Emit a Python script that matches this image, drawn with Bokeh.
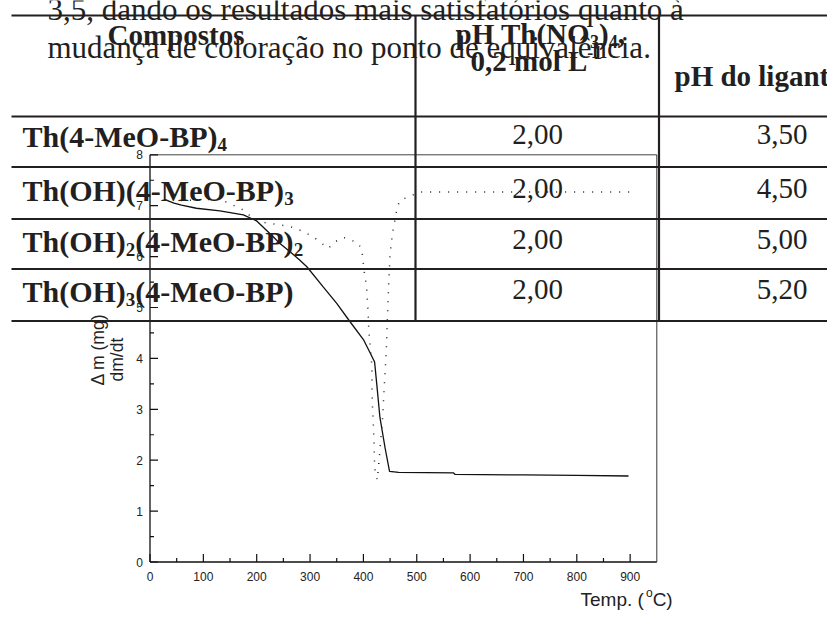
import numpy as np
from bokeh.plotting import figure
from bokeh.models import Range1d
from bokeh.core.properties import value
from bokeh.embed import file_html
from bokeh.resources import INLINE

# ---------------- data ----------------
temp_tg = [28, 45, 59, 87, 131, 175, 200, 231, 243, 262, 281, 294, 325, 350, 375, 400,
           413, 421, 425, 431, 441, 449, 466, 569, 572, 700, 800, 897]
mass_tg = [7.12, 7.05, 7.01, 6.95, 6.90, 6.82, 6.70, 6.39, 6.26, 6.10, 5.93, 5.80, 5.40,
           5.08, 4.72, 4.37, 4.10, 3.93, 3.50, 2.84, 2.22, 1.78, 1.76, 1.75, 1.72, 1.71,
           1.70, 1.69]

temp_dtg = [58, 100, 130, 146, 174, 190, 203, 262, 275, 306, 334, 347, 362, 390, 397, 402,
            406, 409, 410, 416, 416, 417, 419, 420, 421, 424, 426, 430, 436, 439, 443, 445,
            447, 450, 455, 458, 463, 468, 506, 600, 700, 800, 902]
dtg = [7.10, 7.12, 7.13, 7.06, 6.92, 6.78, 6.69, 6.59, 6.55, 6.39, 6.16, 6.29, 6.38, 6.27,
       6.13, 5.67, 5.40, 4.88, 4.58, 3.83, 3.37, 3.07, 2.61, 2.32, 1.86, 1.69, 1.61, 2.07,
       2.84, 3.43, 4.16, 4.81, 5.34, 6.06, 6.49, 6.65, 6.95, 7.10, 7.27, 7.27, 7.27, 7.27,
       7.27]

x_ticks = [0, 100, 200, 300, 400, 500, 600, 700, 800, 900]
x_tick_labels = ["0", "100", "200", "300", "400", "500", "600", "700", "800", "900"]
x_minor = [50, 150, 250, 350, 450, 550, 650, 750, 850]
y_ticks = [0, 1, 2, 3, 4, 5, 6, 7, 8]
y_tick_labels = ["0", "1", "2", "3", "4", "5", "6", "7", "8"]
y_minor = [0.5, 1.5, 2.5, 3.5, 4.5, 5.5, 6.5, 7.5]
x_max = 950
y_max = 8

x_label_parts = [("Temp. (", 0), ("o", 2), ("C)", 0)]
y_label_1 = "Δ m (mg)"
y_label_2 = "dm/dt"

paragraph = ["3,5, dando os resultados mais satisfatórios quanto à",
             "mudança de coloração no ponto de equivalência."]
header_1 = [("Compostos", 0)]
header_2a = [("pH Th(NO", 0), ("3", 1), (")", 0), ("4", 1), (",", 0)]
header_2b = [("0,2 mol L", 0), ("-1", 2)]
header_3 = [("pH do ligante", 0)]
compounds = [
    [("Th(4-MeO-BP)", 0), ("4", 1)],
    [("Th(OH)(4-MeO-BP)", 0), ("3", 1)],
    [("Th(OH)", 0), ("2", 1), ("(4-MeO-BP)", 0), ("2", 1)],
    [("Th(OH)", 0), ("3", 1), ("(4-MeO-BP)", 0)],
]
ph_th = ["2,00", "2,00", "2,00", "2,00"]
ph_lig = ["3,50", "4,50", "5,00", "5,20"]

# ---------------- layout (picture pixels) ----------------
W, H = 827, 624
X0_PX, PX_PER_X = 149.5, 0.5335
Y0_PX, PX_PER_Y = 561.5, 50.9
PAGE_L, PAGE_T = 0, 0
PAGE_R, PAGE_B = PAGE_L + W, PAGE_T + H
BASE_FIX = 0.23  # alphabetic-baseline correction, fraction of font size

INK = "#231f20"
SERIF = value("Liberation Serif")
SANS = value("Liberation Sans")

# Times Bold / Arial advance widths (em) used for sequential text layout
TB = {"T": .667, "h": .556, "(": .333, ")": .333, "4": .5, "-": .333, "M": .944,
      "e": .444, "O": .778, "B": .667, "P": .611, "H": .778, "2": .5, "3": .5,
      "N": .722, "p": .556, " ": .25, ",": .25, "0": .5, "m": .833, "o": .5,
      "l": .278, "L": .667, "1": .5, "C": .722, "s": .389, "t": .333}
AR = {"T": .611, "e": .556, "m": .833, "p": .556, ".": .278, " ": .278, "(": .333,
      "o": .556, "C": .722, ")": .333}

p = figure(width=W, height=H, output_backend="svg", toolbar_location=None,
           x_axis_location=None, y_axis_location=None, min_border=0,
           x_range=Range1d((PAGE_L - X0_PX) / PX_PER_X, (PAGE_R - X0_PX) / PX_PER_X),
           y_range=Range1d((Y0_PX - PAGE_B) / PX_PER_Y, (Y0_PX - PAGE_T) / PX_PER_Y))
p.extra_x_ranges = {"px": Range1d(PAGE_L, PAGE_R)}
p.extra_y_ranges = {"py": Range1d(PAGE_B, PAGE_T)}
p.grid.visible = False
p.outline_line_color = None
p.background_fill_color = "white"
p.border_fill_color = "white"


def layout_segments(parts, x0, size, small, widths):
    out = []
    x = x0
    for txt, kind in parts:
        fs = size if kind == 0 else small
        out.append((x, txt, kind, fs))
        x += sum(widths.get(c, .5) for c in txt) * fs
    return out


def draw_parts(parts, x0, base, size, small, widths, font, style, color,
               sub_dy=5, sup_dy=-11):
    for x, txt, kind, fs in layout_segments(parts, x0, size, small, widths):
        dy = 0 if kind == 0 else (sub_dy if kind == 1 else sup_dy)
        p.text(x=[x], y=[base + dy - BASE_FIX * fs], text=[txt],
               x_range_name="px", y_range_name="py",
               text_font=font, text_font_style=style, text_font_size=f"{fs}px",
               text_color=color, text_align="left", text_baseline="alphabetic")


# ---------------- chart ----------------
p.line(temp_tg, mass_tg, line_color="#111111", line_width=1.3)
p.line(temp_dtg, dtg, line_color="#222222", line_width=1.5, line_dash="1 8")

# frame / axes
p.segment(x0=[0], y0=[0], x1=[0], y1=[y_max], line_color="#111111", line_width=1.3)
p.segment(x0=[0], y0=[0], x1=[x_max], y1=[0], line_color="#111111", line_width=1.3)
p.segment(x0=[0], y0=[y_max], x1=[x_max], y1=[y_max], line_color="#444444", line_width=1)
p.segment(x0=[x_max], y0=[0], x1=[x_max], y1=[y_max], line_color="#333333", line_width=1)

p.segment(x0=x_ticks, y0=[Y0_PX] * len(x_ticks), x1=x_ticks, y1=[Y0_PX - 8] * len(x_ticks),
          y_range_name="py", line_color="#111111", line_width=1.2)
p.segment(x0=x_minor, y0=[Y0_PX] * len(x_minor), x1=x_minor, y1=[Y0_PX - 4] * len(x_minor),
          y_range_name="py", line_color="#111111", line_width=1.2)
p.segment(x0=[X0_PX] * len(y_ticks), y0=y_ticks, x1=[X0_PX + 8] * len(y_ticks), y1=y_ticks,
          x_range_name="px", line_color="#111111", line_width=1.2)
p.segment(x0=[X0_PX] * len(y_minor), y0=y_minor, x1=[X0_PX + 4] * len(y_minor), y1=y_minor,
          x_range_name="px", line_color="#111111", line_width=1.2)

p.text(x=x_ticks, y=[Y0_PX + 14] * len(x_ticks), text=x_tick_labels, y_range_name="py",
       text_font=SANS, text_font_size="12px", text_color="#222222",
       text_align="center", text_baseline="middle")
p.text(x=[X0_PX - 7] * len(y_ticks), y=y_ticks, text=y_tick_labels, x_range_name="px",
       text_font=SANS, text_font_size="12px", text_color="#222222",
       text_align="right", text_baseline="middle")

p.text(x=[97], y=[(Y0_PX - 385) / PX_PER_Y], text=[y_label_1], x_range_name="px",
       angle=np.pi / 2, text_font=SANS, text_font_size="17.5px", text_color="#222222",
       text_align="left", text_baseline="middle")
p.text(x=[116], y=[(Y0_PX - 381) / PX_PER_Y], text=[y_label_2], x_range_name="px",
       angle=np.pi / 2, text_font=SANS, text_font_size="17.5px", text_color="#222222",
       text_align="left", text_baseline="middle")
draw_parts(x_label_parts, 580, 603, 19, 12, AR, SANS, "normal", "#222222", sup_dy=-8)

# ---------------- overlaid page text & table ----------------
for line, base in zip(paragraph, [16, 54]):
    p.text(x=[47], y=[base - BASE_FIX * 31], text=[line], x_range_name="px",
           y_range_name="py", text_font=SERIF, text_font_size="31px", text_color=INK,
           text_align="left", text_baseline="alphabetic")

h_lines = [15, 116, 166.5, 218.5, 268.5, 320.5]
p.segment(x0=[11] * len(h_lines), y0=h_lines, x1=[PAGE_R + 5] * len(h_lines), y1=h_lines,
          x_range_name="px", y_range_name="py", line_color=INK, line_width=2.2)
p.segment(x0=[415, 658.5], y0=[15, 15], x1=[415, 658.5], y1=[320.5, 320.5],
          x_range_name="px", y_range_name="py", line_color=INK, line_width=2.2)

draw_parts(header_1, 107, 41, 29, 18, TB, SERIF, "bold", INK)
draw_parts(header_2a, 455, 40, 29, 18, TB, SERIF, "bold", INK)
draw_parts(header_2b, 470, 67, 29, 18, TB, SERIF, "bold", INK, sup_dy=-11)
draw_parts(header_3, 674, 82, 29, 18, TB, SERIF, "bold", INK)

row_base = [143, 197, 248, 298]
for parts, base in zip(compounds, row_base):
    draw_parts(parts, 22, base, 30, 19, TB, SERIF, "bold", INK)

p.text(x=[537] * 4, y=[b - 2 - BASE_FIX * 29 for b in row_base], text=ph_th,
       x_range_name="px", y_range_name="py", text_font=SERIF, text_font_size="29px",
       text_color=INK, text_align="center", text_baseline="alphabetic")
p.text(x=[807] * 4, y=[b - 2 - BASE_FIX * 29 for b in row_base], text=ph_lig,
       x_range_name="px", y_range_name="py", text_font=SERIF, text_font_size="29px",
       text_color=INK, text_align="right", text_baseline="alphabetic")

open("out.html", "w").write(file_html(p, INLINE))
